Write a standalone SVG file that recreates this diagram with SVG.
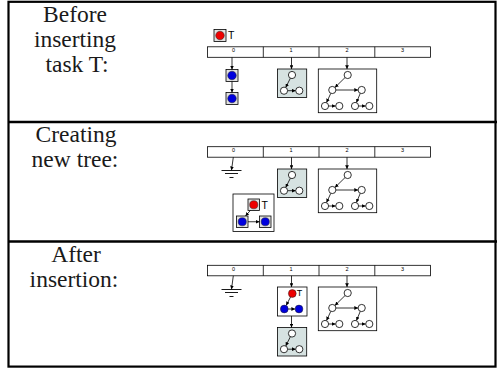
<svg xmlns="http://www.w3.org/2000/svg" xmlns:xlink="http://www.w3.org/1999/xlink" width="497" height="369" viewBox="0 0 497 369">
  <style>
    .frame { fill: none; stroke: #000; stroke-width: 2.2; }
    .sep { stroke: #000; stroke-width: 2.3; }
    .caption { font-family: "Liberation Serif", "Times New Roman", serif; font-size: 23.5px; fill: #1a1a1a; text-anchor: middle; }
    .bar { fill: #fff; stroke: #000; stroke-width: 0.8; }
    .idx { font-family: "Liberation Sans", Arial, sans-serif; font-size: 5.5px; fill: #000; text-anchor: middle; }
    .tlabel { font-family: "Liberation Sans", Arial, sans-serif; font-size: 10.5px; fill: #000; }
    .tlabel-s { font-family: "Liberation Sans", Arial, sans-serif; font-size: 9px; fill: #000; }
    .box { fill: #fff; stroke: #000; stroke-width: 0.8; }
    .shaded { fill: #d6e2e1; stroke: #000; stroke-width: 0.8; }
    .vertex { fill: #fff; stroke: #000; stroke-width: 0.8; }
    .task { fill: #e2e2e2; stroke: #000; stroke-width: 0.8; }
    .red { fill: #ee0000; stroke: #222; stroke-width: 0.5; }
    .blue { fill: #0000dd; stroke: #222; stroke-width: 0.5; }
    .link { stroke: #000; stroke-width: 0.8; fill: none; marker-end: url(#head); }
    .ground { stroke: #000; stroke-width: 0.9; }
  </style>
  <defs>
    <marker id="head" viewBox="0 0 6 6" refX="6" refY="3" markerWidth="3.8" markerHeight="3.8" markerUnits="userSpaceOnUse" orient="auto">
      <path d="M0,0 L6,3 L0,6 z" fill="#000"/>
    </marker>
    <!-- three-vertex tree on a shaded box -->
    <symbol id="smallTree" overflow="visible">
      <rect class="shaded" x="0" y="0" width="29.2" height="28.5"/>
      <line class="link" x1="12.9" y1="9.2" x2="8.2" y2="18.5"/>
      <line class="link" x1="10.1" y1="21.7" x2="18.2" y2="21.7"/>
      <circle class="vertex" cx="14.5" cy="6" r="3.6"/>
      <circle class="vertex" cx="6.5" cy="21.7" r="3.6"/>
      <circle class="vertex" cx="21.8" cy="21.7" r="3.6"/>
    </symbol>
    <!-- seven-vertex tree on a white box -->
    <symbol id="bigTree" overflow="visible">
      <rect class="box" x="0" y="0" width="58.4" height="43.7"/>
      <line class="link" x1="26.8" y1="8.5" x2="16.6" y2="18.5"/>
      <line class="link" x1="17.6" y1="21" x2="39.8" y2="21"/>
      <line class="link" x1="12.5" y1="24.3" x2="8.2" y2="33.6"/>
      <line class="link" x1="10.3" y1="37" x2="17.4" y2="37"/>
      <line class="link" x1="42" y1="24.3" x2="38.1" y2="33.6"/>
      <line class="link" x1="40.3" y1="37" x2="47.4" y2="37"/>
      <circle class="vertex" cx="29.4" cy="6" r="3.6"/>
      <circle class="vertex" cx="14" cy="21" r="3.6"/>
      <circle class="vertex" cx="43.4" cy="21" r="3.6"/>
      <circle class="vertex" cx="6.7" cy="37" r="3.6"/>
      <circle class="vertex" cx="21" cy="37" r="3.6"/>
      <circle class="vertex" cx="36.7" cy="37" r="3.6"/>
      <circle class="vertex" cx="51" cy="37" r="3.6"/>
    </symbol>
    <!-- four-slot array -->
    <symbol id="slots" overflow="visible">
      <rect class="bar" x="0" y="0" width="223" height="10.5"/>
      <line class="bar" x1="55.8" y1="0" x2="55.8" y2="10.5"/>
      <line class="bar" x1="111.5" y1="0" x2="111.5" y2="10.5"/>
      <line class="bar" x1="167.3" y1="0" x2="167.3" y2="10.5"/>
      <text class="idx" x="26" y="5.6">0</text>
      <text class="idx" x="83.5" y="5.6">1</text>
      <text class="idx" x="139.5" y="5.6">2</text>
      <text class="idx" x="195" y="5.6">3</text>
    </symbol>
    <!-- empty-slot ground -->
    <symbol id="groundMark" overflow="visible">
      <line class="ground" x1="-10" y1="0" x2="10" y2="0"/>
      <line class="ground" x1="-6.5" y1="3" x2="6.5" y2="3"/>
      <line class="ground" x1="-2" y1="7" x2="2" y2="7"/>
    </symbol>
  </defs>

  <!-- table frame -->
  <g id="frame">
    <rect class="frame" x="8.5" y="1.8" width="487" height="364.8"/>
    <line class="sep" x1="8" y1="122" x2="497" y2="122"/>
    <line class="sep" x1="8" y1="241.5" x2="497" y2="241.5"/>
  </g>

  <!-- row captions -->
  <g id="captions">
    <text class="caption" x="75" y="22">Before</text>
    <text class="caption" x="75" y="47">inserting</text>
    <text class="caption" x="77" y="72">task T:</text>
    <text class="caption" x="76" y="142">Creating</text>
    <text class="caption" x="75" y="167">new tree:</text>
    <text class="caption" x="76" y="262">After</text>
    <text class="caption" x="74" y="287">insertion:</text>
  </g>

  <!-- Row 1: before inserting -->
  <g id="r1-array"><use xlink:href="#slots" x="207.5" y="46.8"/></g>
  <g id="r1-taskT">
    <rect class="task" x="214" y="29.5" width="12" height="12"/>
    <circle class="red" cx="220" cy="35.5" r="4.3"/>
    <text class="tlabel" x="228" y="39">T</text>
  </g>
  <g id="r1-task-a">
    <rect class="task" x="226" y="69.5" width="12" height="12"/>
    <circle class="blue" cx="232" cy="75.5" r="4.3"/>
  </g>
  <g id="r1-task-b">
    <rect class="task" x="226" y="92.5" width="12" height="12"/>
    <circle class="blue" cx="232" cy="98.5" r="4.3"/>
  </g>
  <g id="r1-tree1"><use xlink:href="#smallTree" x="277.5" y="69"/></g>
  <g id="r1-tree2"><use xlink:href="#bigTree" x="318.3" y="69"/></g>

  <!-- Row 2: creating new tree -->
  <g id="r2-array"><use xlink:href="#slots" x="207.5" y="146.7"/></g>
  <g id="r2-ground"><use xlink:href="#groundMark" x="231.5" y="170.5"/></g>
  <g id="r2-tree1"><use xlink:href="#smallTree" x="277.5" y="169"/></g>
  <g id="r2-tree2"><use xlink:href="#bigTree" x="318.3" y="169"/></g>
  <g id="r2-newtree">
    <rect class="box" x="233" y="194" width="41" height="37.5"/>
    <rect class="task" x="248" y="199" width="11.5" height="11.5"/>
    <circle class="red" cx="253.75" cy="204.75" r="4.1"/>
    <text class="tlabel" x="261.5" y="209">T</text>
    <rect class="task" x="236.5" y="216" width="11.5" height="11.5"/>
    <circle class="blue" cx="242.25" cy="221.75" r="4.1"/>
    <rect class="task" x="259.5" y="216" width="11.5" height="11.5"/>
    <circle class="blue" cx="265.25" cy="221.75" r="4.1"/>
  </g>

  <!-- Row 3: after insertion -->
  <g id="r3-array"><use xlink:href="#slots" x="207.5" y="265.3"/></g>
  <g id="r3-ground"><use xlink:href="#groundMark" x="231.5" y="289.5"/></g>
  <g id="r3-tree1">
    <rect class="box" x="277.5" y="287" width="29.5" height="29"/>
    <line class="link" x1="290.6" y1="296.9" x2="286.2" y2="305.4"/>
    <line class="link" x1="288.1" y1="309" x2="295.2" y2="309"/>
    <circle class="red" cx="292.3" cy="293.5" r="3.9"/>
    <text class="tlabel-s" x="296.8" y="296">T</text>
    <circle class="blue" cx="284.3" cy="309" r="3.9"/>
    <circle class="blue" cx="299" cy="309" r="3.9"/>
  </g>
  <g id="r3-tree1-next"><use xlink:href="#smallTree" x="277.5" y="327.5"/></g>
  <g id="r3-tree2"><use xlink:href="#bigTree" x="318.3" y="287"/></g>

  <!-- slot pointers -->
  <g id="connectors">
    <line class="link" x1="232" y1="57.3" x2="232" y2="69.5"/>
    <line class="link" x1="232" y1="81.5" x2="232" y2="92.5"/>
    <line class="link" x1="291.5" y1="57.3" x2="291.5" y2="69"/>
    <line class="link" x1="347" y1="57.3" x2="347" y2="69"/>

    <line class="link" x1="233.3" y1="157.2" x2="231.5" y2="170.3"/>
    <line class="link" x1="291.5" y1="157.2" x2="291.5" y2="169"/>
    <line class="link" x1="347" y1="157.2" x2="347" y2="169"/>
    <line class="link" x1="250.3" y1="210.5" x2="245.5" y2="216"/>
    <line class="link" x1="248" y1="221.75" x2="259.5" y2="221.75"/>

    <line class="link" x1="233.3" y1="275.8" x2="231.5" y2="289.3"/>
    <line class="link" x1="291.5" y1="275.8" x2="291.5" y2="287"/>
    <line class="link" x1="347" y1="275.8" x2="347" y2="287"/>
    <line class="link" x1="291.5" y1="316" x2="291.5" y2="327.5"/>
  </g>
</svg>
